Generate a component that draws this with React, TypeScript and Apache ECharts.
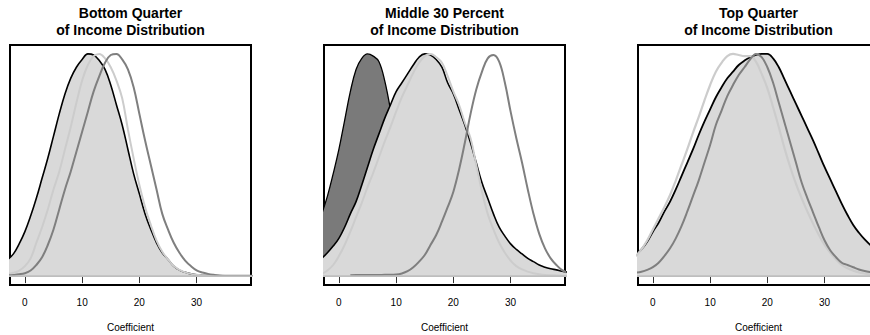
import React, { useEffect, useRef } from "react";
import * as echarts from "echarts";

// Shared x grid (coefficient values)
const xs = [-3, -2, -1, 0, 1, 2, 3, 4, 5, 6, 7, 8, 9, 10, 11, 12, 13, 14, 15, 16, 17, 18, 19, 20,
  21, 22, 23, 24, 25, 26, 27, 28, 29, 30, 31, 32, 33, 34, 35, 36, 37, 38, 39, 40];

const tickValues = [0, 10, 20, 30];
const titles = [
  "Bottom Quarter\nof Income Distribution",
  "Middle 30 Percent\nof Income Distribution",
  "Top Quarter\nof Income Distribution",
];

// Panel 1: Bottom quarter (scaled densities)
const p1Black = [0.075, 0.10, 0.145, 0.20, 0.27, 0.35, 0.44, 0.53, 0.63, 0.73, 0.82, 0.89, 0.94, 0.975, 1.0, 0.995,
  0.97, 0.93, 0.86, 0.77, 0.68, 0.57, 0.46, 0.37, 0.28, 0.21, 0.15, 0.105, 0.075, 0.045, 0.027, 0.017, 0.01, 0.006,
  0.004, 0.002, 0.001, 0.001, 0.001, 0.001, 0.0, 0.0, 0.0, 0.0];
const p1Light = [0.01, 0.015, 0.025, 0.045, 0.08, 0.15, 0.22, 0.30, 0.39, 0.47, 0.57, 0.67, 0.78, 0.88, 0.95, 0.99,
  1.0, 0.98, 0.94, 0.88, 0.80, 0.66, 0.53, 0.41, 0.31, 0.23, 0.16, 0.11, 0.075, 0.045, 0.028, 0.017, 0.01, 0.006,
  0.004, 0.003, 0.002, 0.002, 0.001, 0.001, 0.001, 0.001, 0.001, 0.001];
const p1Mid = [0.003, 0.005, 0.008, 0.013, 0.025, 0.05, 0.085, 0.14, 0.21, 0.30, 0.39, 0.47, 0.56, 0.65, 0.74, 0.83,
  0.90, 0.96, 0.995, 1.0, 0.975, 0.93, 0.85, 0.73, 0.61, 0.50, 0.39, 0.28, 0.21, 0.15, 0.105, 0.07, 0.045, 0.026,
  0.016, 0.01, 0.006, 0.003, 0.002, 0.002, 0.002, 0.002, 0.002, 0.002];

// Panel 2: Middle 30 percent
const p2Dark = [0.28, 0.36, 0.46, 0.57, 0.70, 0.83, 0.93, 0.98, 1.0, 0.99, 0.965, 0.88, 0.75, 0.58, 0.42, 0.28,
  0.17, 0.09, 0.04, 0.015, 0.005, null, null, null, null, null, null, null, null, null, null, null, null, null,
  null, null, null, null, null, null, null, null, null, null];
const p2Fill = [0.08, 0.105, 0.135, 0.17, 0.22, 0.28, 0.335, 0.41, 0.49, 0.57, 0.64, 0.71, 0.77, 0.83, 0.87, 0.91,
  0.95, 0.985, 1.0, 0.995, 0.975, 0.94, 0.87, 0.82, 0.75, 0.68, 0.60, 0.51, 0.42, 0.35, 0.28, 0.22, 0.18, 0.145,
  0.12, 0.10, 0.08, 0.065, 0.05, 0.04, 0.033, 0.028, 0.022, 0.018];
const p2Light = [0.01, 0.025, 0.05, 0.09, 0.14, 0.20, 0.265, 0.33, 0.40, 0.465, 0.535, 0.605, 0.67, 0.74, 0.805,
  0.86, 0.915, 0.96, 0.99, 1.0, 0.985, 0.96, 0.90, 0.83, 0.77, 0.69, 0.62, 0.50, 0.38, 0.28, 0.21, 0.15, 0.105,
  0.07, 0.045, 0.03, 0.02, 0.013, 0.008, 0.005, 0.004, 0.003, 0.002, 0.002];
const p2Mid = [null, null, null, null, null, 0.004, 0.005, 0.005, 0.005, 0.005, 0.005, 0.006, 0.006, 0.007, 0.012,
  0.022, 0.04, 0.065, 0.095, 0.14, 0.185, 0.245, 0.31, 0.38, 0.48, 0.60, 0.73, 0.84, 0.92, 0.98, 0.995, 0.965, 0.87,
  0.74, 0.62, 0.51, 0.39, 0.28, 0.19, 0.125, 0.08, 0.05, 0.027, 0.015];

// Panel 3: Top quarter
const p3Black = [0.095, 0.12, 0.155, 0.20, 0.24, 0.29, 0.335, 0.39, 0.45, 0.51, 0.57, 0.635, 0.695, 0.75, 0.805,
  0.85, 0.89, 0.92, 0.95, 0.97, 0.985, 0.995, 1.0, 1.0, 0.98, 0.94, 0.885, 0.83, 0.775, 0.72, 0.665, 0.61, 0.55,
  0.49, 0.435, 0.38, 0.325, 0.275, 0.23, 0.195, 0.165, 0.14, 0.12, 0.10];
const p3Light = [0.09, 0.12, 0.16, 0.21, 0.26, 0.31, 0.365, 0.43, 0.50, 0.57, 0.645, 0.715, 0.79, 0.86, 0.92, 0.96,
  0.99, 1.0, 0.995, 0.99, 0.99, 0.965, 0.91, 0.845, 0.76, 0.67, 0.575, 0.49, 0.415, 0.35, 0.29, 0.235, 0.185, 0.14,
  0.105, 0.075, 0.05, 0.035, 0.025, 0.017, 0.012, 0.008, 0.006, 0.004];
const p3Mid = [0.015, 0.02, 0.028, 0.04, 0.06, 0.09, 0.125, 0.17, 0.225, 0.29, 0.36, 0.43, 0.51, 0.59, 0.68, 0.745,
  0.81, 0.86, 0.905, 0.94, 0.975, 1.0, 0.985, 0.94, 0.87, 0.78, 0.69, 0.60, 0.51, 0.42, 0.35, 0.285, 0.22, 0.16,
  0.115, 0.085, 0.06, 0.05, 0.04, 0.03, 0.023, 0.018, 0.014, 0.01];

// Zero reference line (density = 0)
const baselineValue = 0;

const FILL = "#D9D9D9";
const LIGHT = "#CCCCCC";
const MID = "#7F7F7F";
const DARK = "#7A7A7A";
const BASE = "#BEBEBE";

const gridLefts = [10, 324, 638];
const GRID_TOP = 45;
const GRID_W = 241;
const GRID_H = 240;

function pairs(ys: (number | null)[]) {
  const out: [number, number][] = [];
  xs.forEach((x, i) => {
    const y = ys[i];
    if (y !== null && y !== undefined) out.push([x, y]);
  });
  return out;
}

let zCounter = 2;
function curve(idx: number, ys: (number | null)[], color: string, width: number, fill?: string) {
  const s: any = {
    type: "line",
    xAxisIndex: idx,
    yAxisIndex: idx,
    data: pairs(ys),
    smooth: 0.4,
    symbol: "none",
    lineStyle: { color, width },
    silent: true,
    z: zCounter++,
  };
  if (fill) s.areaStyle = { color: fill, opacity: 1, origin: 0 };
  return s;
}

function baseline(idx: number) {
  return {
    type: "line",
    xAxisIndex: idx,
    yAxisIndex: idx,
    data: [
      [xs[0], baselineValue],
      [xs[xs.length - 1], baselineValue],
    ],
    symbol: "none",
    lineStyle: { color: BASE, width: 1.6 },
    silent: true,
    z: zCounter++,
  };
}

export default function App() {
  const ref = useRef<HTMLDivElement>(null);

  useEffect(() => {
    if (!ref.current) return;
    const chart = echarts.init(ref.current, undefined, { renderer: "svg" });
    zCounter = 2;

    const grids = gridLefts.map((left) => ({
      left,
      top: GRID_TOP,
      width: GRID_W,
      height: GRID_H,
      show: true,
      borderColor: "#000",
      borderWidth: 2,
      backgroundColor: "transparent",
      containLabel: false,
      outerBoundsMode: "none",
    }));

    const xAxes = gridLefts.map((_, i) => ({
      type: "value",
      gridIndex: i,
      min: -2.6,
      max: 39.5,
      name: "Coefficient",
      nameLocation: "middle",
      nameGap: 37,
      nameTextStyle: { fontSize: 10, color: "#000", fontFamily: "Liberation Sans" },
      axisLine: { show: false },
      axisTick: {
        show: true,
        inside: false,
        length: 7,
        customValues: tickValues,
        lineStyle: { color: "#333", width: 1 },
      },
      axisLabel: {
        show: true,
        margin: 12,
        fontSize: 10,
        color: "#000",
        fontFamily: "Liberation Sans",
        customValues: tickValues,
      },
      splitLine: { show: false },
    }));

    const yAxes = gridLefts.map((_, i) => ({
      type: "value",
      gridIndex: i,
      min: -0.04,
      max: 1.04,
      show: false,
      splitLine: { show: false },
    }));

    const series = [
      // Panel 1
      curve(0, p1Black, "#000", 1.6, FILL),
      curve(0, p1Light, LIGHT, 2),
      curve(0, p1Mid, MID, 2),
      baseline(0),
      // Panel 2
      curve(1, p2Dark, "#000", 1.3, DARK),
      curve(1, p2Fill, "#000", 1.6, FILL),
      curve(1, p2Light, LIGHT, 2),
      curve(1, p2Mid, MID, 2),
      baseline(1),
      // Panel 3
      curve(2, p3Black, "#000", 1.8, FILL),
      curve(2, p3Light, LIGHT, 2.2),
      curve(2, p3Mid, MID, 2),
      baseline(2),
    ];

    const title = titles.map((t, i) => ({
      text: t,
      left: gridLefts[i] + GRID_W / 2,
      top: 4,
      textAlign: "center",
      padding: 0,
      textStyle: {
        fontSize: 14,
        fontWeight: "bold",
        color: "#000",
        lineHeight: 17,
        fontFamily: "Liberation Sans",
      },
    }));

    chart.setOption({
      animation: false,
      backgroundColor: "#fff",
      title,
      grid: grids,
      xAxis: xAxes,
      yAxis: yAxes,
      series,
    });

    return () => chart.dispose();
  }, []);

  return (
    <div
      ref={ref}
      style={{ position: "fixed", left: 0, top: 0, width: 870, height: 335 }}
    />
  );
}
